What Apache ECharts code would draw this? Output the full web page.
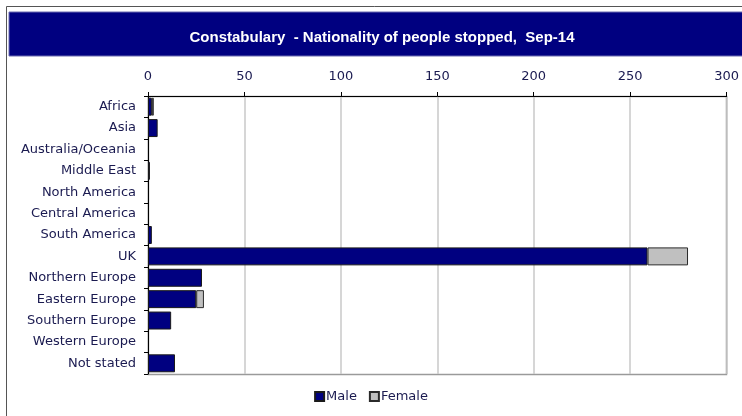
<!DOCTYPE html>
<html>
<head>
<meta charset="utf-8">
<script src="https://cdn.jsdelivr.net/npm/echarts@6/dist/echarts.min.js"></script>
<style>
  html, body { margin: 0; padding: 0; background: #fff; }
  #chart { width: 742px; height: 416px; }
</style>
</head>
<body>
<div id="chart"></div>
<script>
// regions, top to bottom as in the picture
const categories = [
  'Africa', 'Asia', 'Australia/Oceania', 'Middle East', 'North America',
  'Central America', 'South America', 'UK', 'Northern Europe',
  'Eastern Europe', 'Southern Europe', 'Western Europe', 'Not stated'
]
const maleValues = [2, 5, 0, 1, 0, 0, 2, 259, 28, 25, 12, 0, 14]
const femaleValues = [1, 0, 0, 0, 0, 0, 0, 21, 0, 4, 0, 0, 0]
const xTicks = [0, 50, 100, 150, 200, 250, 300]

const chart = echarts.init(document.getElementById('chart'), null, { renderer: 'canvas' })

const labelFont = 'Tahoma, "DejaVu Sans", sans-serif'
const noZero = arr => arr.map(v => (v === 0 ? '-' : v)) // empty bars draw nothing

chart.setOption({
  animation: false,
  backgroundColor: '#fff',
  graphic: [
    { // outer frame
      type: 'rect',
      shape: { x: 6.5, y: 6.5, width: 760, height: 420 },
      style: { fill: 'none', stroke: '#555', lineWidth: 1 },
      silent: true
    },
    { // title band
      type: 'rect',
      shape: { x: 9, y: 12, width: 740, height: 44 },
      style: { fill: '#000080', stroke: '#6a6ab0', lineWidth: 1 },
      silent: true
    },
    { // plot border (right/bottom)
      type: 'rect',
      shape: { x: 148.5, y: 96.5, width: 578, height: 278 },
      style: { fill: 'none', stroke: '#9a9a9a', lineWidth: 1.5 },
      silent: true,
      z: 0
    }
  ],
  title: {
    text: 'Constabulary  - Nationality of people stopped,  Sep-14',
    left: 377,
    top: 25,
    textAlign: 'center',
    textStyle: {
      color: '#fff',
      fontFamily: '"Liberation Sans Narrow", "Arial Narrow", sans-serif',
      fontSize: 15,
      fontWeight: 'bold'
    }
  },
  legend: {
    bottom: 8,
    left: 'center',
    itemWidth: 9,
    itemHeight: 9,
    itemGap: 12,
    icon: 'rect',
    textStyle: { fontFamily: labelFont, fontSize: 13, color: '#1a1a50', padding: [0, 0, 0, -3] },
    data: ['Male', 'Female']
  },
  grid: {
    left: 148,
    right: 15,
    top: 96,
    bottom: 42,
    containLabel: false
  },
  xAxis: {
    type: 'value',
    position: 'top',
    min: xTicks[0],
    max: xTicks[xTicks.length - 1],
    interval: 50,
    axisLine: { show: true, lineStyle: { color: '#000', width: 1 } },
    axisTick: { show: true, inside: false, length: 4, lineStyle: { color: '#000' } },
    axisLabel: {
      fontFamily: labelFont,
      fontSize: 13,
      color: '#1a1a50',
      margin: 13
    },
    splitLine: { show: true, lineStyle: { color: '#c8c8c8', width: 1.5 } }
  },
  yAxis: {
    type: 'category',
    inverse: true,
    data: categories,
    axisLine: { show: true, lineStyle: { color: '#000', width: 1 } },
    axisTick: { show: true, length: 4, lineStyle: { color: '#000' } },
    axisLabel: {
      fontFamily: labelFont,
      fontSize: 13,
      color: '#1a1a50',
      margin: 12
    }
  },
  series: [
    {
      name: 'Male',
      type: 'bar',
      stack: 'total',
      barCategoryGap: '16%',
      data: noZero(maleValues),
      itemStyle: { color: '#000080', borderColor: '#1a1a1a', borderWidth: 1 }
    },
    {
      name: 'Female',
      type: 'bar',
      stack: 'total',
      data: noZero(femaleValues),
      itemStyle: { color: '#c0c0c0', borderColor: '#2a2a2a', borderWidth: 1 }
    }
  ]
})
</script>
</body>
</html>
